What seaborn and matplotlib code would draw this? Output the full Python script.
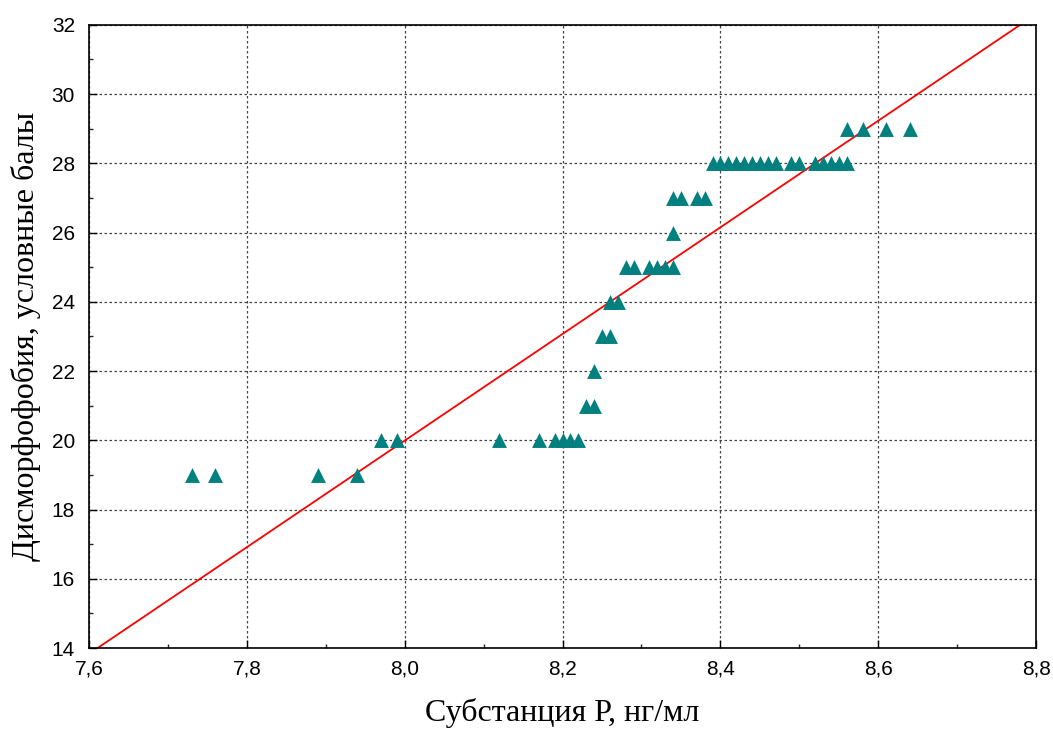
import numpy as np
import pandas as pd
import matplotlib.pyplot as plt
import seaborn as sns
from matplotlib.ticker import MultipleLocator, FuncFormatter

# substance P (ng/ml) and dysmorphophobia score
substance_p = [7.73, 7.76, 7.89, 7.94,
               7.97, 7.99, 8.12, 8.17, 8.19, 8.20, 8.21, 8.22,
               8.23, 8.24,
               8.24,
               8.25, 8.26,
               8.26, 8.27,
               8.28, 8.29, 8.31, 8.32, 8.33, 8.34,
               8.34,
               8.34, 8.35, 8.37, 8.38,
               8.39, 8.40, 8.41, 8.42, 8.43, 8.44, 8.45, 8.46, 8.47,
               8.49, 8.50, 8.52, 8.53, 8.54, 8.55, 8.56,
               8.56, 8.58, 8.61, 8.64]
score = [19, 19, 19, 19,
         20, 20, 20, 20, 20, 20, 20, 20,
         21, 21,
         22,
         23, 23,
         24, 24,
         25, 25, 25, 25, 25, 25,
         26,
         27, 27, 27, 27,
         28, 28, 28, 28, 28, 28, 28, 28, 28,
         28, 28, 28, 28, 28, 28, 28,
         29, 29, 29, 29]

df = pd.DataFrame({"x": substance_p, "y": score})

sns.set_style("white")
plt.rcParams["font.family"] = ["Liberation Sans", "DejaVu Sans"]
plt.rcParams["text.color"] = "black"
plt.rcParams["axes.labelcolor"] = "black"

fig = plt.figure(figsize=(10.53, 7.31), dpi=100)
ax = fig.add_axes([0.0845, 0.1135, 0.8995, 0.8525])
ax.set_xlim(7.6, 8.8)
ax.set_ylim(14, 32)

sns.regplot(data=df, x="x", y="y", ax=ax, ci=None, truncate=False,
            marker="^", color="#008080",
            scatter_kws={"s": 115, "color": "#00807f", "alpha": 1,
                         "linewidths": 0, "zorder": 3},
            line_kws={"color": "red", "linewidth": 1.3, "zorder": 2})

ax.xaxis.set_major_locator(MultipleLocator(0.2))
ax.xaxis.set_minor_locator(MultipleLocator(0.1))
ax.yaxis.set_major_locator(MultipleLocator(2))
ax.yaxis.set_minor_locator(MultipleLocator(1))
ax.xaxis.set_major_formatter(FuncFormatter(lambda v, p: f"{v:.1f}".replace(".", ",")))
ax.tick_params(which="both", direction="in", bottom=True, left=True, top=False, right=False)
ax.tick_params(which="major", length=6, width=1, labelsize=15, colors="black")
ax.tick_params(axis="x", which="major", pad=8)
ax.tick_params(axis="y", which="major", pad=10)
ax.tick_params(which="minor", length=3, width=1)
ax.grid(True, which="major", color="#444444", linestyle=(0, (2, 2)), linewidth=0.9)
for s in ax.spines.values():
    s.set_color("black")
    s.set_linewidth(1.2)

ax.set_xlabel("Субстанция Р, нг/мл", family=["Liberation Serif"], fontsize=23, labelpad=14)
ax.set_ylabel("Дисморфофобия, условные балы", family=["Liberation Serif"], fontsize=23, labelpad=8)

fig.savefig("out.png", dpi=100)
